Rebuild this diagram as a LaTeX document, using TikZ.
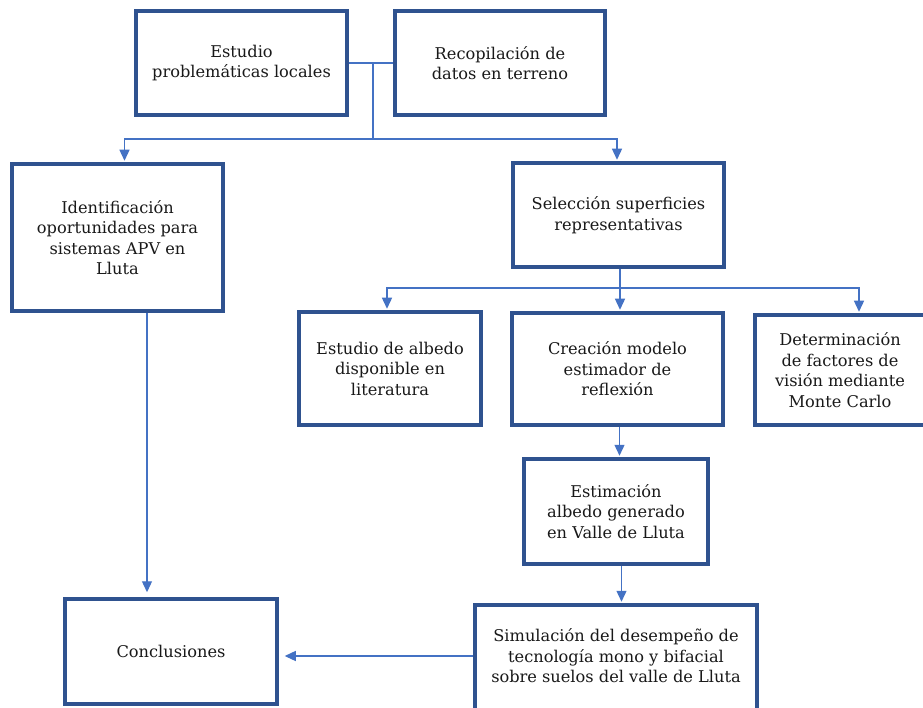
\documentclass[tikz,border=0pt]{standalone}
\usepackage{fontspec}
\setmainfont{DejaVu Serif}
\usetikzlibrary{arrows.meta,calc}
\definecolor{boxblue}{RGB}{47,82,143}
\definecolor{linkblue}{RGB}{68,114,196}
\begin{document}
\begin{tikzpicture}[x=1pt,y=-1pt,
  box/.style={draw=boxblue, line width=3.5pt, fill=white, align=center, inner sep=0pt,
    font=\fontsize{16.2}{20.5}\selectfont, text=black!90},
  plaintext/.style={align=center, inner sep=0pt, font=\fontsize{16.2}{20.5}\selectfont, text=black!90},
  link/.style={draw=linkblue, line width=1.3pt},
  arr/.style={link, -{Triangle[width=10pt,length=11pt]}, shorten >=1.5pt}]
\useasboundingbox (0,0) rectangle (923,708);
\clip (0,0) rectangle (923,708);
\fill[white] (0,0) rectangle (923,708);

\node[box, minimum width=211pt, minimum height=104pt] (b1) at (241.5,63) {Estudio\\problemáticas locales};
\node[box, minimum width=210pt, minimum height=104pt] (b2) at (500,63) {Recopilación de\\datos en terreno};
\node[box, minimum width=211pt, minimum height=147pt] (b3) at (117.5,237.5) {Identificación\\oportunidades para\\sistemas APV en\\Lluta};
\node[box, minimum width=211pt, minimum height=104pt] (b4) at (618.5,215) {Selección superficies\\representativas};
\node[box, minimum width=182pt, minimum height=113pt] (b5) at (390,368.5) {Estudio de albedo\\disponible en\\literatura};
\node[box, minimum width=211pt, minimum height=112pt] (b6) at (617.5,369) {Creación modelo\\estimador de\\reflexión};
\node[box, minimum width=170pt, minimum height=110pt] (b7) at (840,370) {Determinación\\de factores de\\visión mediante\\Monte Carlo};
\node[box, minimum width=184pt, minimum height=105pt] (b8) at (616,511.5) {Estimación\\albedo generado\\en Valle de Lluta};
\node[box, minimum width=282pt, minimum height=140pt] (b9) at (616,675) {};
\node[plaintext] (b9text) at (616,656) {Simulación del desempeño de\\tecnología mono y bifacial\\sobre suelos del valle de Lluta};
\node[box, minimum width=212pt, minimum height=105pt] (b10) at (171,651.5) {Conclusiones};

\coordinate (j1) at (373,63);
\coordinate (j2) at (373,139);
\coordinate (j3) at (620,288);
\coordinate (j4) at (473,656);

\draw[link] (b1.east) -- (b2.west);
\draw[link] (j1) -- (j2);
\draw[arr] (j2) -| ([xshift=7pt]b3.north);
\draw[arr] (j2) -| ([xshift=-1.5pt]b4.north);
\draw[arr, shorten >=5pt] ([xshift=29.5pt]b3.south) -- ([xshift=-24pt]b10.north);
\draw[link] ([xshift=1.5pt]b4.south) -- (j3);
\draw[arr] (j3) -| ([xshift=-3pt]b5.north);
\draw[arr] (j3) -- ([xshift=2.5pt]b6.north);
\draw[arr] (j3) -| ([xshift=19pt]b7.north);
\draw[arr] ([xshift=2pt]b6.south) -- ([xshift=3.5pt]b8.north);
\draw[arr] ([xshift=5.5pt]b8.south) -- ([xshift=5.5pt]b9.north);
\draw[arr, shorten >=6pt] (j4) -- (j4 -| b10.east);
\end{tikzpicture}
\end{document}
